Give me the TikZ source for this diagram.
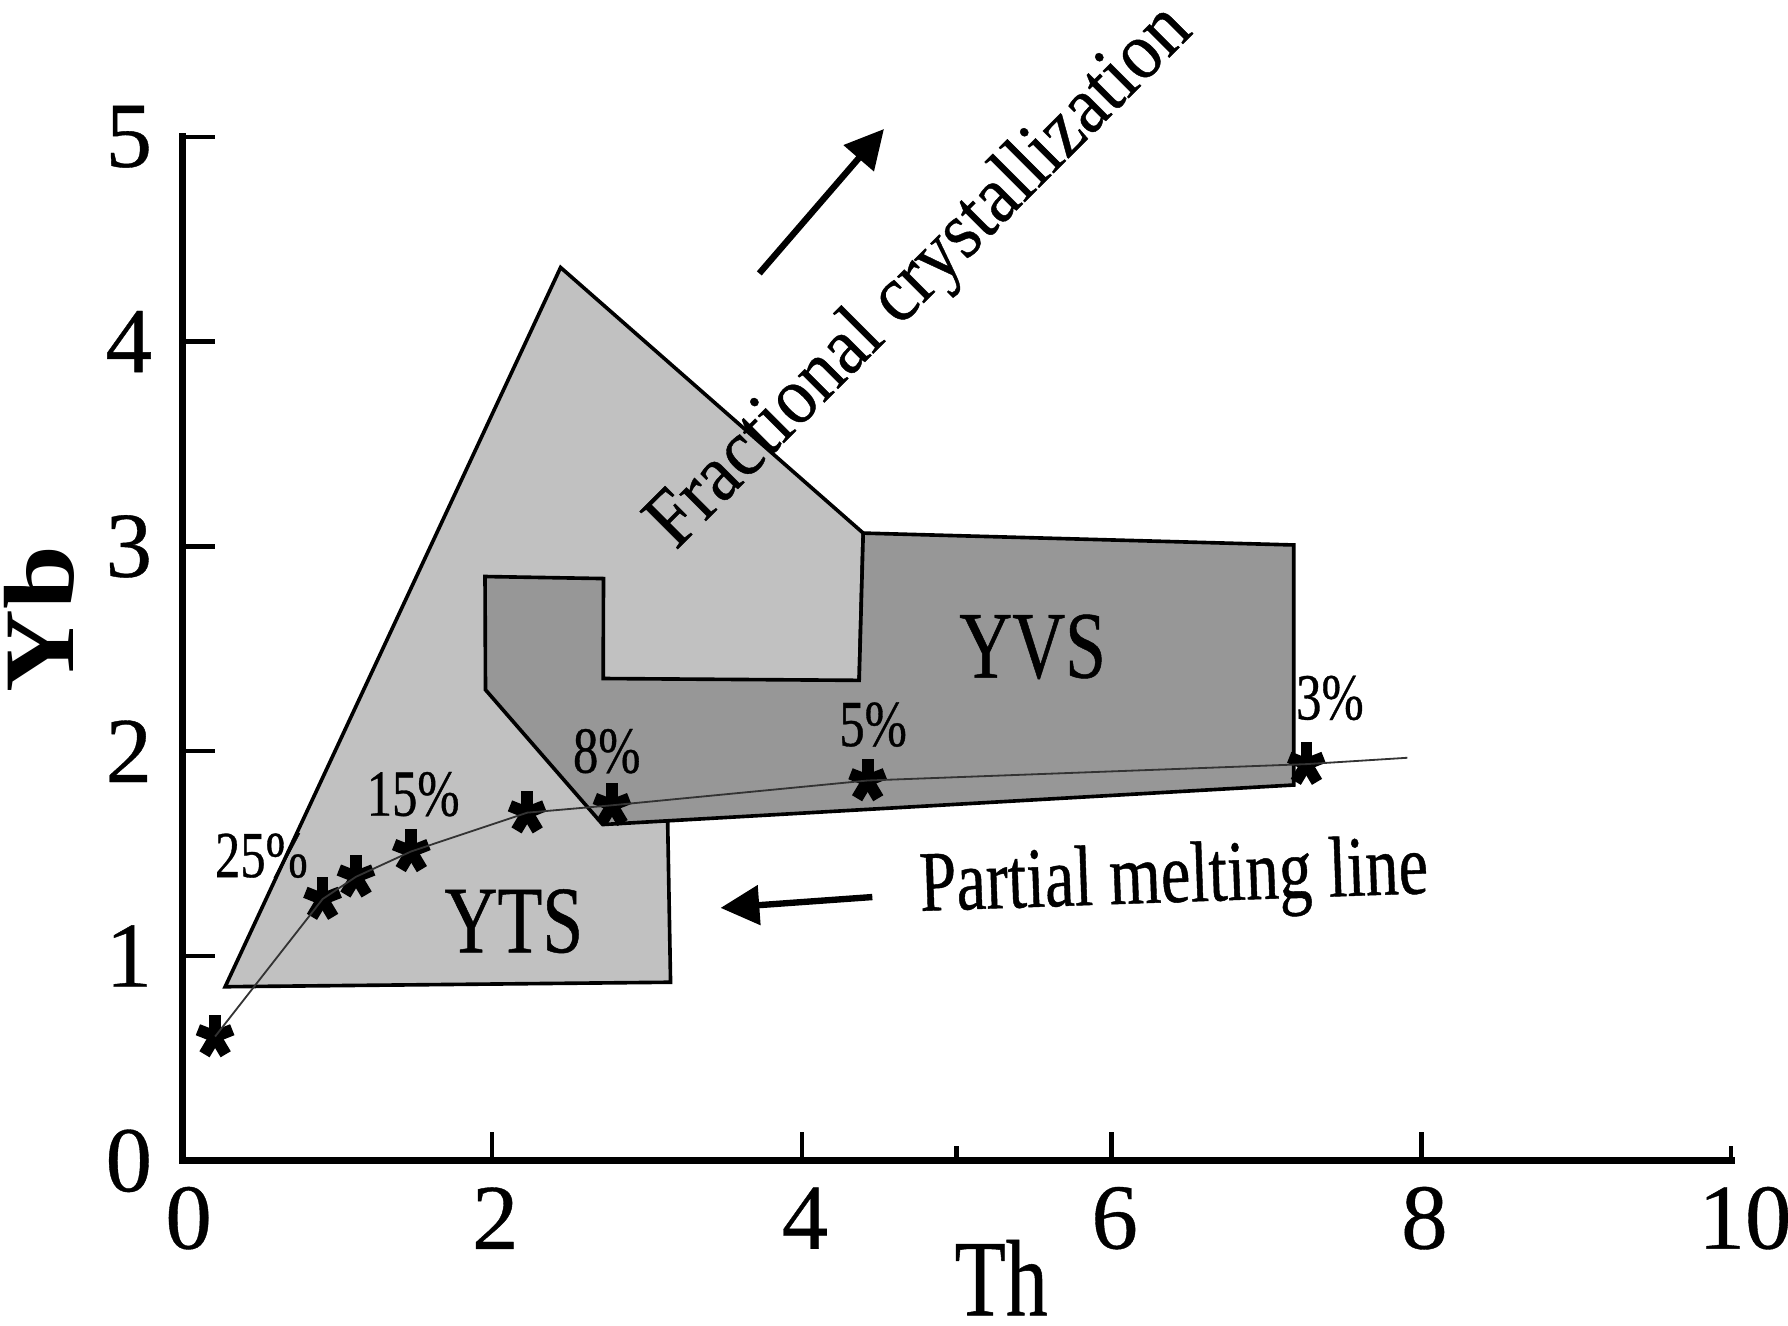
\documentclass[tikz,border=0pt]{standalone}
\usepackage{fontspec}
\setmainfont{Liberation Serif}
\newfontfamily\narrowfont[FakeStretch=0.77, FakeBold=0.5]{Liberation Serif}
\newfontfamily\tickfont[FakeBold=0.4]{Liberation Serif}
\newfontfamily\fracfont[FakeStretch=0.9, FakeBold=0.5]{Liberation Serif}
\newfontfamily\ybfont[FakeStretch=1.15]{Liberation Serif}
\usetikzlibrary{arrows.meta}
\definecolor{ytsgray}{RGB}{193,193,193}
\definecolor{yvsgray}{RGB}{151,151,151}
\tikzstyle{frameaxis}=[line width=1.6pt, line cap=rect]
\tikzstyle{axtick}=[line width=1pt]
\tikzstyle{field}=[draw=black, line width=0.8pt, line join=miter]
\tikzstyle{ticklabel}=[inner sep=0pt, font=\tickfont\fontsize{20.5}{21}\selectfont]
\tikzstyle{axtitle}=[inner sep=0pt, font=\narrowfont\fontsize{24}{24}\selectfont]
\tikzstyle{pct}=[inner sep=0pt, font=\narrowfont\fontsize{14.5}{15}\selectfont]
\tikzstyle{fieldname}=[inner sep=0pt, font=\narrowfont\fontsize{21}{22}\selectfont]
\tikzstyle{mlabel}=[inner sep=0pt, font=\narrowfont\fontsize{19}{20}\selectfont]
\tikzstyle{trend}=[line width=1.4pt, -{Triangle[length=0.3cm,width=0.3cm]}]
\tikzstyle{melt}=[line width=0.4pt, draw=black!80]
\tikzstyle{mstar}=[inner sep=0pt, minimum size=0.5cm, path picture={\foreach \a in {18,90,162,234,306} \draw[line width=2.6pt] (path picture bounding box.center) -- ++(\a:0.14cm and 0.17cm);}]

\begin{document}
\begin{tikzpicture}[x=1.2cm,y=1.587cm]
				\useasboundingbox (-1.178,-0.806) rectangle (10.368,5.668);
				
				%The fields
				\draw[field, fill=ytsgray] (0.276,0.85) -- (2.442,4.362) -- (4.396,3.065) -- (4.37,2.346) -- (3.13,1.8) -- (3.152,0.872) -- cycle;
				\draw[field, fill=yvsgray] (1.954,2.853) -- (2.719,2.843) -- (2.717,2.355) -- (4.37,2.346) -- (4.396,3.065) -- (7.176,3.007) -- (7.176,1.835) -- (2.714,1.642) -- (1.957,2.30) -- cycle;
				
				%The axes
				\draw[frameaxis] (0,5) -- (0,0) -- (10,0);
				\draw[axtick] (0,1) -- (0.208,1);
				\draw[axtick] (0,2) -- (0.208,2);
				\draw[axtick] (0,3) -- (0.208,3);
				\draw[axtick] (0,4) -- (0.208,4);
				\draw[axtick] (0,5) -- (0.208,5);
				\draw[axtick] (2,0) -- (2,0.139);
				\draw[axtick] (4,0) -- (4,0.139);
				\draw[axtick] (5,0) -- (5,0.072);
				\draw[axtick] (6,0) -- (6,0.139);
				\draw[axtick] (8,0) -- (8,0.139);
				\draw[axtick] (10,0) -- (10,0.072);
				
				%The tick labels
				\draw (-0.19,0) node[ticklabel, anchor=east] (y0) {0};
				\draw (-0.19,1) node[ticklabel, anchor=east] (y1) {1};
				\draw (-0.19,2) node[ticklabel, anchor=east] (y2) {2};
				\draw (-0.19,3) node[ticklabel, anchor=east] (y3) {3};
				\draw (-0.19,4) node[ticklabel, anchor=east] (y4) {4};
				\draw (-0.19,5) node[ticklabel, anchor=east] (y5) {5};
				\draw (0.04,-0.28) node[ticklabel] (x0) {0};
				\draw (2.02,-0.28) node[ticklabel] (x2) {2};
				\draw (4.02,-0.28) node[ticklabel] (x4) {4};
				\draw (6.02,-0.28) node[ticklabel] (x6) {6};
				\draw (8.02,-0.28) node[ticklabel] (x8) {8};
				\draw (10.09,-0.28) node[ticklabel] (x10) {10};
				
				%The axis titles
				\draw (5.287,-0.755) node[axtitle, anchor=base] (th) {Th};
				\draw (-0.925,2.645) node[inner sep=0pt, rotate=90, font=\ybfont\bfseries\fontsize{22}{22}\selectfont] (yb) {Yb};
				
				%The field names
				\draw (2.14,1.17) node[fieldname] (yts) {YTS};
				\draw (5.49,2.51) node[fieldname] (yvs) {YVS};
				
				%The partial melting line
				\draw (0.211,0.607) node[mstar] (p1) {};
				\draw (0.905,1.278) node[mstar] (p2) {};
				\draw (1.121,1.387) node[mstar] (p3) {};
				\draw (1.478,1.511) node[mstar] (p4) {};
				\draw (2.226,1.70) node[mstar] (p5) {};
				\draw (2.774,1.736) node[mstar] (p6) {};
				\draw (4.425,1.857) node[mstar] (p7) {};
				\draw (7.258,1.937) node[mstar] (p8) {};
				\coordinate (pend) at (7.91,1.968);
				\draw[melt] (p1.center) -- (p2.center) -- (p3.center) -- (p4.center) -- (p5.center) -- (p6.center) -- (p7.center) -- (p8.center) -- (pend);
				
				\draw (0.51,1.49) node[pct] (m25) {25\%};
				\draw (1.49,1.79) node[pct] (m15) {15\%};
				\draw (2.74,2.0) node[pct] (m8) {8\%};
				\draw (4.46,2.13) node[pct] (m5) {5\%};
				\draw (7.41,2.26) node[pct] (m3) {3\%};
				
				%The trends
				\coordinate (pmtail) at (4.455,1.288);
				\coordinate (pmtip) at (3.475,1.235);
				\draw[trend] (pmtail) -- (pmtip);
				\draw (4.76,1.22) node[mlabel, anchor=base west, rotate=2] (pml) {Partial melting line};
				
				\coordinate (fctail) at (3.725,4.333);
				\coordinate (fctip) at (4.53,5.038);
				\draw[trend] (fctail) -- (fctip);
				\draw (4.77,4.31) node[inner sep=0pt, rotate=45, font=\fracfont\fontsize{18}{18}\selectfont] (fc) {Fractional crystallization};
			\end{tikzpicture}
\end{document}
